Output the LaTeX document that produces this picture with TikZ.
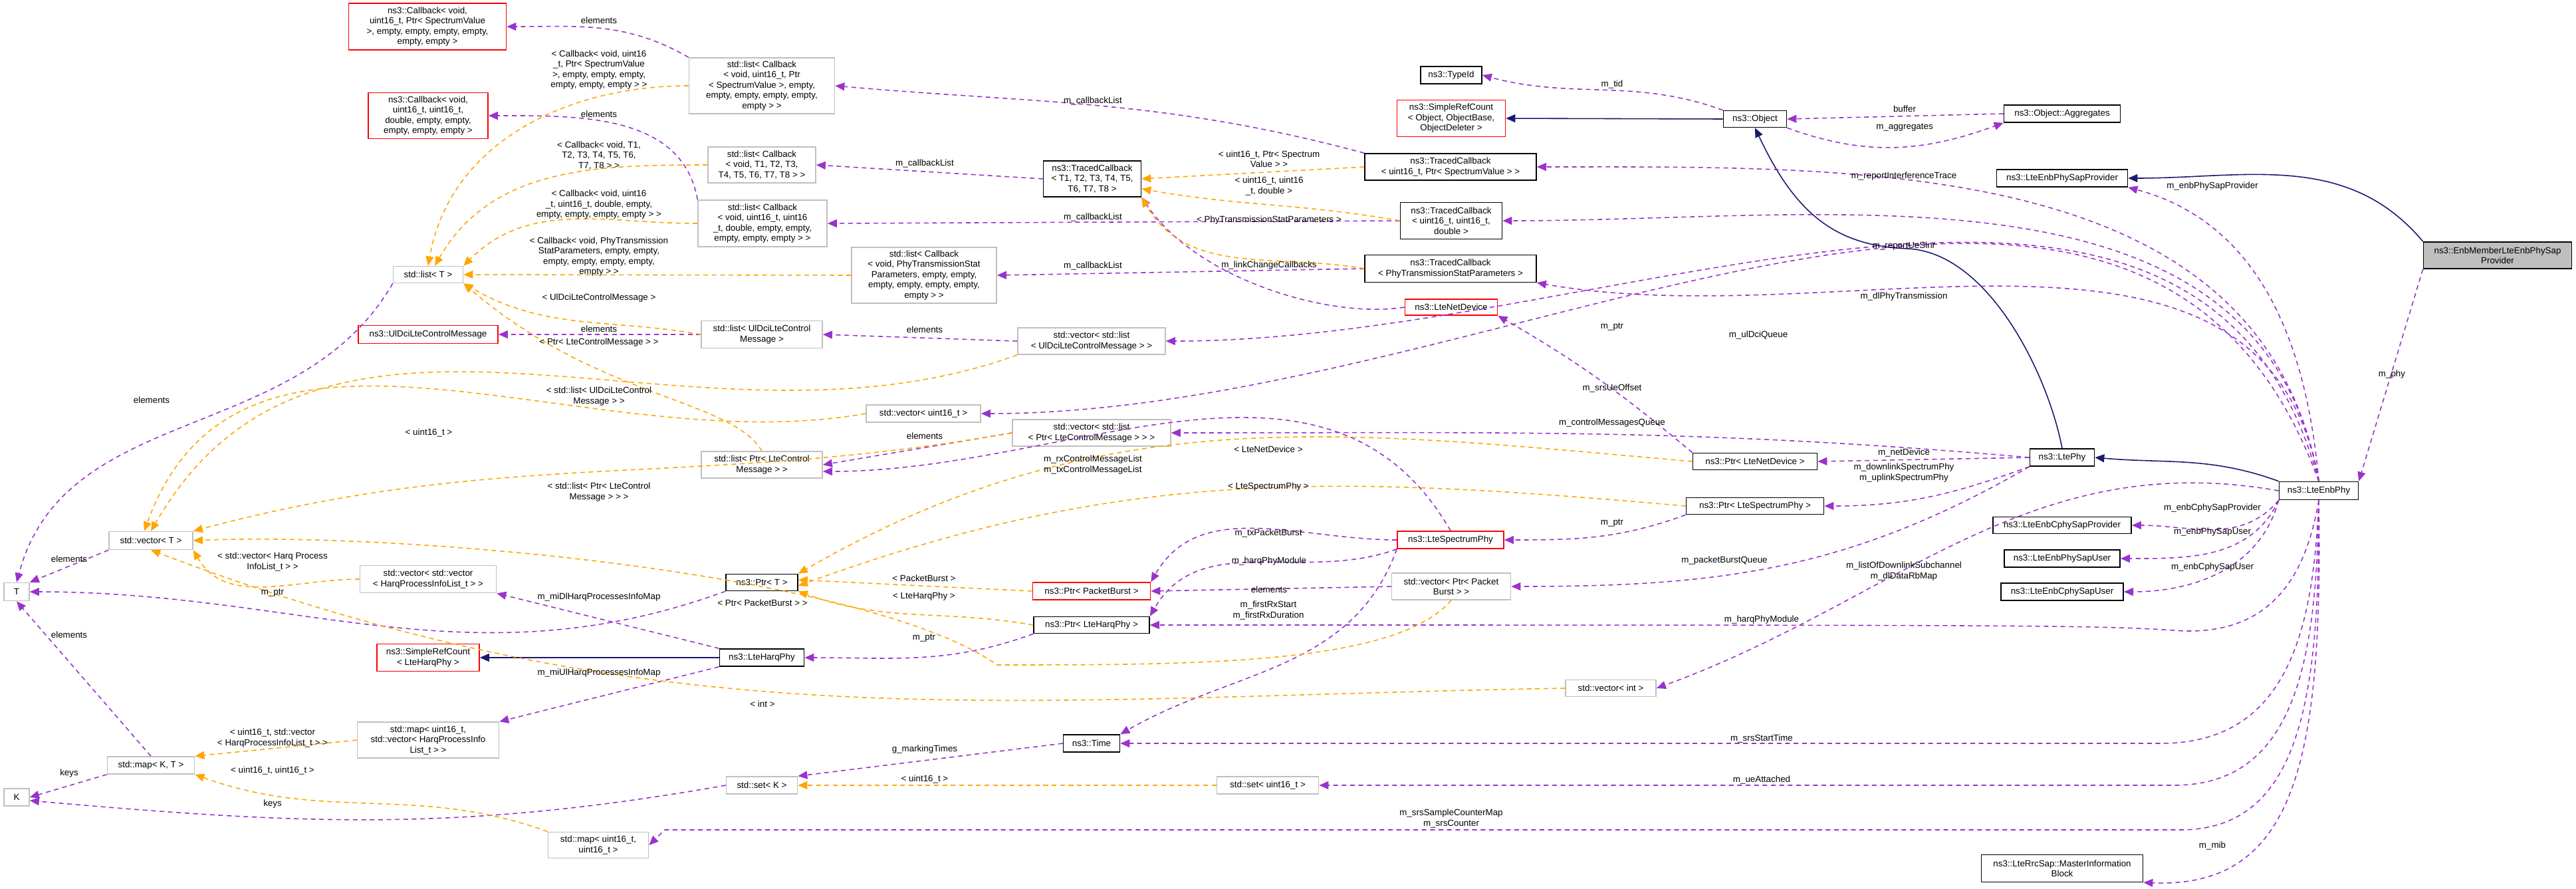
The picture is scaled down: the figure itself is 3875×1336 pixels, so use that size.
\documentclass[tikz,border=0pt]{standalone}
\usepackage{fontspec}
\setmainfont{Liberation Sans}
\usetikzlibrary{arrows.meta}
\definecolor{pur}{HTML}{9A32CD}
\definecolor{orn}{HTML}{FFA500}
\definecolor{nav}{HTML}{191970}
\definecolor{gbd}{HTML}{BFBFBF}
\begin{document}
\begin{tikzpicture}[x=0.01cm,y=-0.01cm,
  every node/.style={font=\fontsize{3.8pt}{4.4pt}\selectfont,align=center,inner sep=1pt},
  bx/.style={draw=black,line width=0.45pt,fill=white},
  gx/.style={draw=gbd,line width=0.45pt,fill=white},
  rx/.style={draw=red,line width=0.45pt,fill=white},
  mx/.style={draw=black,line width=0.45pt,fill=gbd},
  use/.style={pur,dash pattern=on 2pt off 1.6pt,line width=0.45pt,-{Triangle[length=4pt,width=3.4pt]}},
  tpl/.style={orn,dash pattern=on 2pt off 1.6pt,line width=0.45pt,-{Triangle[length=4pt,width=3.4pt]}},
  inh/.style={nav,line width=0.45pt,-{Triangle[length=4pt,width=3.4pt]}},
  lb/.style={fill=none}]
\useasboundingbox (0,0) rectangle (3875,1336);
\def\N#1#2#3#4#5#6{\node[#1,minimum width=#4*0.01cm,minimum height=#5*0.01cm] (#2) at #3 {#6};}
\N{rx}{cbSV}{(643,40)}{237}{70}{ns3::Callback< void,\\ uint16\_t, Ptr< SpectrumValue\\ >, empty, empty, empty, empty,\\ empty, empty >}
\N{gx}{listCbSV}{(1146,129)}{219}{84}{std::list< Callback\\ < void, uint16\_t, Ptr\\ < SpectrumValue >, empty,\\ empty, empty, empty, empty,\\ empty > >}
\N{rx}{cbUUD}{(644,174)}{180}{69}{ns3::Callback< void,\\ uint16\_t, uint16\_t,\\ double, empty, empty,\\ empty, empty, empty >}
\N{gx}{listCbT}{(1146,248)}{162}{54}{std::list< Callback\\ < void, T1, T2, T3,\\ T4, T5, T6, T7, T8 > >}
\N{gx}{listCbUUD}{(1147,336)}{194}{70}{std::list< Callback\\ < void, uint16\_t, uint16\\ \_t, double, empty, empty,\\ empty, empty, empty > >}
\N{gx}{listCbPTS}{(1390,414)}{218}{84}{std::list< Callback\\ < void, PhyTransmissionStat\\ Parameters, empty, empty,\\ empty, empty, empty, empty,\\ empty > >}
\N{gx}{listT}{(644,413)}{105}{25}{std::list< T >}
\N{rx}{UlDci}{(644,503)}{210}{27}{ns3::UlDciLteControlMessage}
\N{gx}{listUlDci}{(1146,503)}{182}{41}{std::list< UlDciLteControl\\ Message >}
\N{bx}{TypeId}{(2183,113)}{92}{26}{ns3::TypeId}
\N{rx}{SRCObj}{(2183,178)}{163}{55}{ns3::SimpleRefCount\\ < Object, ObjectBase,\\ ObjectDeleter >}
\N{bx}{TCT}{(1643,269)}{147}{54}{ns3::TracedCallback\\ < T1, T2, T3, T4, T5,\\ T6, T7, T8 >}
\N{bx}{TCSV}{(2182,251)}{258}{40}{ns3::TracedCallback\\ < uint16\_t, Ptr< SpectrumValue > >}
\N{bx}{TCUUD}{(2183,332)}{153}{55}{ns3::TracedCallback\\ < uint16\_t, uint16\_t,\\ double >}
\N{bx}{TCPTS}{(2182,404)}{258}{41}{ns3::TracedCallback\\ < PhyTransmissionStatParameters >}
\N{rx}{LteNetDevice}{(2183,462)}{139}{24}{ns3::LteNetDevice}
\N{gx}{vecListUlDci}{(1642,513)}{222}{40}{std::vector< std::list\\ < UlDciLteControlMessage > >}
\N{gx}{vecU16}{(1389,622)}{172}{26}{std::vector< uint16\_t >}
\N{gx}{vecListPtr}{(1642,651)}{238}{40}{std::vector< std::list\\ < Ptr< LteControlMessage > > >}
\N{bx}{Object}{(2640,179)}{95}{25}{ns3::Object}
\N{bx}{Aggregates}{(3102,171)}{175}{26}{ns3::Object::Aggregates}
\N{bx}{SapProv}{(3102,268)}{197}{26}{ns3::LteEnbPhySapProvider}
\N{mx}{EnbMember}{(3757,384)}{223}{40}{ns3::EnbMemberLteEnbPhySap\\ Provider}
\N{gx}{listPtrLCM}{(1146,699)}{182}{40}{std::list< Ptr< LteControl\\ Message > >}
\N{gx}{vecT}{(227,813)}{126}{27}{std::vector< T >}
\N{gx}{T}{(25,890)}{38}{27}{T}
\N{gx}{vecVecHarq}{(644,871)}{205}{41}{std::vector< std::vector\\ < HarqProcessInfoList\_t > >}
\N{bx}{PtrT}{(1146,876)}{108}{25}{ns3::Ptr< T >}
\N{rx}{SRCHarq}{(644,989)}{154}{41}{ns3::SimpleRefCount\\ < LteHarqPhy >}
\N{bx}{LteHarqPhy}{(1146,989)}{127}{26}{ns3::LteHarqPhy}
\N{gx}{mapHarq}{(644,1113)}{213}{54}{std::map< uint16\_t,\\ std::vector< HarqProcessInfo\\ List\_t > >}
\N{gx}{mapKT}{(227,1151)}{131}{26}{std::map< K, T >}
\N{gx}{K}{(25,1199)}{38}{26}{K}
\N{gx}{setK}{(1146,1181)}{107}{26}{std::set< K >}
\N{gx}{mapU16}{(900,1271)}{151}{39}{std::map< uint16\_t,\\ uint16\_t >}
\N{bx}{PtrNetDev}{(2640,694)}{187}{25}{ns3::Ptr< LteNetDevice >}
\N{bx}{PtrSpecPhy}{(2640,761)}{207}{25}{ns3::Ptr< LteSpectrumPhy >}
\N{rx}{LteSpecPhy}{(2182,812)}{160}{26}{ns3::LteSpectrumPhy}
\N{rx}{PtrPB}{(1642,889)}{177}{26}{ns3::Ptr< PacketBurst >}
\N{gx}{vecPtrPB}{(2183,882)}{179}{40}{std::vector< Ptr< Packet\\ Burst > >}
\N{bx}{PtrHarq}{(1642,940)}{174}{25}{ns3::Ptr< LteHarqPhy >}
\N{gx}{vecInt}{(2423,1035)}{136}{25}{std::vector< int >}
\N{bx}{Time}{(1642,1118)}{85}{26}{ns3::Time}
\N{gx}{setU16}{(1907,1181)}{153}{26}{std::set< uint16\_t >}
\N{bx}{LtePhy}{(3102,688)}{97}{26}{ns3::LtePhy}
\N{bx}{EnbPhy}{(3488,738)}{119}{27}{ns3::LteEnbPhy}
\N{bx}{CProv}{(3102,790)}{208}{25}{ns3::LteEnbCphySapProvider}
\N{bx}{PUser}{(3102,840)}{174}{26}{ns3::LteEnbPhySapUser}
\N{bx}{CUser}{(3102,890)}{184}{26}{ns3::LteEnbCphySapUser}
\N{bx}{MIB}{(3102,1306)}{243}{41}{ns3::LteRrcSap::MasterInformation\\ Block}
% inheritance
\draw[inh] (Object.west) -- (SRCObj.east);
\draw[inh] (LtePhy.north) .. controls (3080,560) and (2990,380) .. (2870,374) .. controls (2760,370) and (2700,320) .. (Object.south);
\draw[inh] (EnbPhy.north west) to[out=160,in=-5] (LtePhy.east);
\draw[inh] (EnbMember.north west) to[out=130,in=0] (SapProv.east);
\draw[inh] (LteHarqPhy.west) -- (SRCHarq.east);
% usage
\draw[use] (Object.north west) to[out=160,in=-15] (TypeId.east);
\draw[use] (Aggregates.west) -- (Object.east);
\draw[use] (Object.south east) to[out=-20,in=200] (Aggregates.south west);
\draw[use] (EnbMember.south west) -- (EnbPhy.north east);
\draw[use] (EnbPhy.north) to[out=95,in=-15] (SapProv.south east);
\draw[use] (EnbPhy.north) to[out=100,in=0] (TCSV.east);
\draw[use] (EnbPhy.north) to[out=100,in=0] (TCUUD.east);
\draw[use] (EnbPhy.north) to[out=100,in=-10] (TCPTS.south east);
\draw[use] (EnbPhy.north) to[out=105,in=0] (vecListUlDci.east);
\draw[use] (EnbPhy.north) to[out=110,in=0] (vecU16.east);
\draw[use] (EnbPhy.west) to[out=170,in=20] (vecInt.east);
\draw[use] (EnbPhy.south) .. controls (3470,860) and (3420,960) .. (3270,948) .. controls (3150,940) and (3050,940) .. (PtrHarq.east);
\draw[use] (EnbPhy.south) .. controls (3480,950) and (3440,1118) .. (3250,1118) -- (Time.east);
\draw[use] (EnbPhy.south) .. controls (3485,1000) and (3450,1181) .. (3270,1181) -- (setU16.east);
\draw[use] (EnbPhy.south) .. controls (3490,1050) and (3460,1248) .. (3280,1248) -- (1000,1248) -- (mapU16.east);
\draw[use] (EnbPhy.south) .. controls (3495,1150) and (3450,1336) .. (MIB.south east);
\draw[use] (EnbPhy.south west) to[out=-130,in=0] (CProv.east);
\draw[use] (EnbPhy.south west) to[out=-115,in=0] (PUser.east);
\draw[use] (EnbPhy.south west) to[out=-105,in=0] (CUser.east);
\draw[use] (LtePhy.west) to[out=175,in=0] (vecListPtr.east);
\draw[use] (LtePhy.west) -- (PtrNetDev.east);
\draw[use] (LtePhy.south west) to[out=200,in=0] (PtrSpecPhy.east);
\draw[use] (LtePhy.south west) to[out=210,in=0] (vecPtrPB.east);
\draw[use] (TCSV.north west) to[out=165,in=-5] (listCbSV.east);
\draw[use] (TCT.west) -- (listCbT.east);
\draw[use] (TCUUD.west) -- (listCbUUD.east);
\draw[use] (TCPTS.west) -- (listCbPTS.east);
\draw[use] (LteNetDevice.west) .. controls (2000,480) and (1800,420) .. (TCT.south east);
\draw[use] (listCbSV.north west) to[out=150,in=0] (cbSV.east);
\draw[use] (listCbUUD.north west) to[out=100,in=0] (cbUUD.east);
\draw[use] (listUlDci.west) -- (UlDci.east);
\draw[use] (vecListUlDci.west) -- (listUlDci.east);
\draw[use] (vecListPtr.west) -- (listPtrLCM.east);
\draw[use] (LteSpecPhy.north) to[out=120,in=0] ([yshift=-0.1cm]listPtrLCM.east);
\draw[use] (listT.south west) to[out=-120,in=75] (T.north);
\draw[use] (vecT.south west) -- (T.north east);
\draw[use] (mapKT.north) -- (T.south);
\draw[use] (mapKT.south west) -- (K.east);
\draw[use] (setK.west) to[out=190,in=-5] ([yshift=-0.05cm]K.east);
\draw[use] (Time.west) -- (setK.north east);
\draw[use] (LteHarqPhy.north west) -- (vecVecHarq.south east);
\draw[use] (LteHarqPhy.south west) -- (mapHarq.north east);
\draw[use] (PtrT.south west) to[out=200,in=0] (T.east);
\draw[use] (PtrHarq.south west) to[out=200,in=0] (LteHarqPhy.east);
\draw[use] (PtrNetDev.north west) to[out=140,in=-30] (LteNetDevice.south east);
\draw[use] (PtrSpecPhy.south west) to[out=200,in=0] (LteSpecPhy.east);
\draw[use] (LteSpecPhy.west) to[out=180,in=60] (PtrPB.north east);
\draw[use] (LteSpecPhy.south west) to[out=200,in=60] (PtrHarq.north east);
\draw[use] (LteSpecPhy.south west) to[out=250,in=30] (Time.north east);
\draw[use] (vecPtrPB.west) -- (PtrPB.east);
% templates
\draw[tpl] (TCSV.west) -- (TCT.east);
\draw[tpl] (TCUUD.west) to[out=170,in=-10] ([yshift=-0.15cm]TCT.east);
\draw[tpl] (TCPTS.west) to[out=170,in=-60] (TCT.south east);
\draw[tpl] (listCbSV.west) to[out=180,in=80] (listT.north);
\draw[tpl] (listCbT.west) to[out=180,in=60] ([xshift=0.1cm]listT.north);
\draw[tpl] (listCbUUD.west) to[out=180,in=45] (listT.north east);
\draw[tpl] (listCbPTS.west) -- (listT.east);
\draw[tpl] (listUlDci.west) to[out=170,in=-30] (listT.south east);
\draw[tpl] (listPtrLCM.north) .. controls (1100,600) and (900,600) .. (listT.south east);
\draw[tpl] (vecListUlDci.south west) to[out=200,in=60] (vecT.north);
\draw[tpl] (vecU16.west) to[out=190,in=70] ([xshift=-0.1cm]vecT.north);
\draw[tpl] (vecListPtr.west) to[out=190,in=15] (vecT.north east);
\draw[tpl] (vecVecHarq.west) to[out=180,in=-60] (vecT.south east);
\draw[tpl] (vecInt.west) .. controls (1500,1050) and (1000,1120) .. (vecT.south);
\draw[tpl] (vecPtrPB.south) .. controls (2100,1000) and (1800,1000) .. (1500,1000) .. controls (1300,860) and (600,800) .. (vecT.east);
\draw[tpl] (mapHarq.west) -- (mapKT.north east);
\draw[tpl] (mapU16.north west) to[out=160,in=-20] (mapKT.south east);
\draw[tpl] (setU16.west) -- (setK.east);
\draw[tpl] (PtrNetDev.west) to[out=175,in=30] (PtrT.north east);
\draw[tpl] (PtrSpecPhy.west) to[out=175,in=20] ([yshift=-0.05cm]PtrT.east);
\draw[tpl] (PtrPB.west) -- ([yshift=0.04cm]PtrT.east);
\draw[tpl] (PtrHarq.west) to[out=170,in=-20] (PtrT.south east);
% labels
\node[lb] (a1) at (901,31) {elements};
\node[lb] (a2) at (901,105) {< Callback< void, uint16\\ \_t, Ptr< SpectrumValue\\ >, empty, empty, empty,\\ empty, empty, empty > >};
\node[lb] (a3) at (901,172) {elements};
\node[lb] (a4) at (901,234) {< Callback< void, T1,\\ T2, T3, T4, T5, T6,\\ T7, T8 > >};
\node[lb] (a5) at (901,308) {< Callback< void, uint16\\ \_t, uint16\_t, double, empty,\\ empty, empty, empty, empty > >};
\node[lb] (a6) at (901,386) {< Callback< void, PhyTransmission\\ StatParameters, empty, empty,\\ empty, empty, empty, empty,\\ empty > >};
\node[lb] (a7) at (901,448) {< UlDciLteControlMessage >};
\node[lb] (a8) at (901,495) {elements};
\node[lb] (a9) at (901,515) {< Ptr< LteControlMessage > >};
\node[lb] (a10) at (901,596) {< std::list< UlDciLteControl\\ Message > >};
\node[lb] (a11) at (645,651) {< uint16\_t >};
\node[lb] (a12) at (228,602) {elements};
\node[lb] (b1) at (1644,152) {m\_callbackList};
\node[lb] (b2) at (1391,246) {m\_callbackList};
\node[lb] (b3) at (1644,327) {m\_callbackList};
\node[lb] (b4) at (1644,400) {m\_callbackList};
\node[lb] (b5) at (1909,239) {< uint16\_t, Ptr< Spectrum\\ Value > >};
\node[lb] (b6) at (1909,280) {< uint16\_t, uint16\\ \_t, double >};
\node[lb] (b7) at (1909,331) {< PhyTransmissionStatParameters >};
\node[lb] (b8) at (1909,399) {m\_linkChangeCallbacks};
\node[lb] (b9) at (2425,127) {m\_tid};
\node[lb] (b10) at (2865,164) {buffer};
\node[lb] (b11) at (2865,192) {m\_aggregates};
\node[lb] (b12) at (1391,496) {elements};
\node[lb] (b13) at (2425,492) {m\_ptr};
\node[lb] (b14) at (2425,584) {m\_srsUeOffset};
\node[lb] (b15) at (2425,636) {m\_controlMessagesQueue};
\node[lb] (b16) at (1391,656) {elements};
\node[lb] (c1) at (2864,265) {m\_reportInterferenceTrace};
\node[lb] (c2) at (3328,280) {m\_enbPhySapProvider};
\node[lb] (c3) at (2864,370) {m\_reportUeSinr};
\node[lb] (c4) at (2864,446) {m\_dlPhyTransmission};
\node[lb] (c5) at (2645,504) {m\_ulDciQueue};
\node[lb] (c6) at (3598,563) {m\_phy};
\node[lb] (d1) at (2864,681) {m\_netDevice};
\node[lb] (d2) at (2864,711) {m\_downlinkSpectrumPhy\\ m\_uplinkSpectrumPhy};
\node[lb] (d3) at (3328,764) {m\_enbCphySapProvider};
\node[lb] (d4) at (3328,800) {m\_enbPhySapUser};
\node[lb] (d5) at (3328,853) {m\_enbCphySapUser};
\node[lb] (d6) at (2594,843) {m\_packetBurstQueue};
\node[lb] (d7) at (2864,859) {m\_listOfDownlinkSubchannel\\ m\_dlDataRbMap};
\node[lb] (d8) at (2650,932) {m\_harqPhyModule};
\node[lb] (d9) at (2650,1111) {m\_srsStartTime};
\node[lb] (d10) at (2650,1173) {m\_ueAttached};
\node[lb] (d11) at (3328,1272) {m\_mib};
\node[lb] (e1) at (1644,699) {m\_rxControlMessageList\\ m\_txControlMessageList};
\node[lb] (e2) at (1908,676) {< LteNetDevice >};
\node[lb] (e3) at (1908,732) {< LteSpectrumPhy >};
\node[lb] (e4) at (2425,787) {m\_ptr};
\node[lb] (e5) at (1908,802) {m\_txPacketBurst};
\node[lb] (e6) at (1909,844) {m\_harqPhyModule};
\node[lb] (e7) at (1909,887) {elements};
\node[lb] (e8) at (1908,918) {m\_firstRxStart\\ m\_firstRxDuration};
\node[lb] (e9) at (1390,870) {< PacketBurst >};
\node[lb] (e10) at (1390,897) {< LteHarqPhy >};
\node[lb] (e11) at (1390,960) {m\_ptr};
\node[lb] (e12) at (1391,1127) {g\_markingTimes};
\node[lb] (e13) at (1391,1172) {< uint16\_t >};
\node[lb] (e14) at (2183,1231) {m\_srsSampleCounterMap\\ m\_srsCounter};
\node[lb] (f1) at (901,740) {< std::list< Ptr< LteControl\\ Message > > >};
\node[lb] (f2) at (104,841) {elements};
\node[lb] (f3) at (410,845) {< std::vector< Harq Process\\ InfoList\_t > >};
\node[lb] (f4) at (410,892) {m\_ptr};
\node[lb] (f5) at (901,898) {m\_miDlHarqProcessesInfoMap};
\node[lb] (f6) at (1147,907) {< Ptr< PacketBurst > >};
\node[lb] (f7) at (104,955) {elements};
\node[lb] (f8) at (901,1012) {m\_miUlHarqProcessesInfoMap};
\node[lb] (f9) at (1147,1059) {< int >};
\node[lb] (f10) at (410,1110) {< uint16\_t, std::vector\\ < HarqProcessInfoList\_t > >};
\node[lb] (f11) at (410,1159) {< uint16\_t, uint16\_t >};
\node[lb] (f12) at (104,1163) {keys};
\node[lb] (f13) at (410,1209) {keys};
\end{tikzpicture}
\end{document}
